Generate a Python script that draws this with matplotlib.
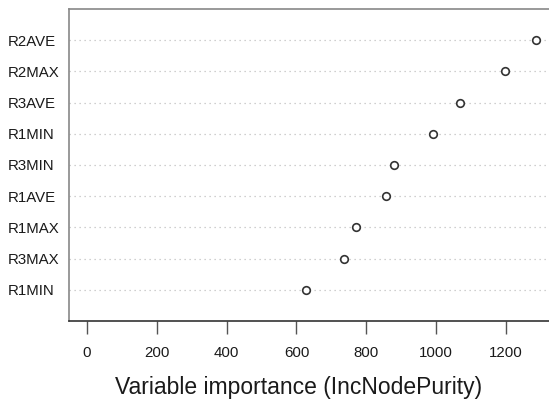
import matplotlib
matplotlib.use("Agg")
import matplotlib.pyplot as plt
import matplotlib.transforms as mtransforms

plt.rcParams['font.family'] = ['Liberation Sans', 'DejaVu Sans']

labels = ["R1MIN", "R3MAX", "R1MAX", "R1AVE", "R3MIN", "R1MIN", "R3AVE", "R2MAX", "R2AVE"]
values = [627, 736, 771, 857, 880, 991, 1069, 1198, 1286]
xticks = [0, 200, 400, 600, 800, 1000, 1200]

fig = plt.figure(figsize=(5.49, 4.0), dpi=100)
ax = fig.add_axes([69/549, 1 - 321/400, (554 - 69)/549, (321 - 9)/400])

n = len(values)
ypos = list(range(1, n + 1))
for y in ypos:
    ax.axhline(y, color='#c0c0c0', linestyle=(0, (1, 3)), linewidth=0.9, zorder=1)
ax.scatter(values, ypos, s=30, facecolors='white', edgecolors='#333333', linewidths=1.2, zorder=3)

xmax = max(values)
pad = 0.04 * xmax
ax.set_xlim(-pad, xmax + pad)
ax.set_ylim(0, n + 1)

ax.set_yticks([])
trans = mtransforms.blended_transform_factory(fig.transFigure, ax.transData)
for y, lab in zip(ypos, labels):
    ax.text(8/549, y, lab, transform=trans, ha='left', va='center_baseline',
            fontsize=10.8, color='#1a1a1a')

ax.set_xticks(xticks)
ax.set_xticklabels([str(t) for t in xticks], fontsize=10.8, color='#1a1a1a')
ax.tick_params(axis='x', direction='out', length=9, width=1.0, color='#555555', pad=9)
fig.text(298.5/549, 6/400, "Variable importance (IncNodePurity)", ha='center', va='baseline',
         fontsize=16.5, color='#1a1a1a')

for side in ['top', 'left', 'right']:
    ax.spines[side].set_color('#888888')
    ax.spines[side].set_linewidth(1.2)
ax.spines['bottom'].set_color('#333333')
ax.spines['bottom'].set_linewidth(1.2)

fig.savefig("out.png", dpi=100)
